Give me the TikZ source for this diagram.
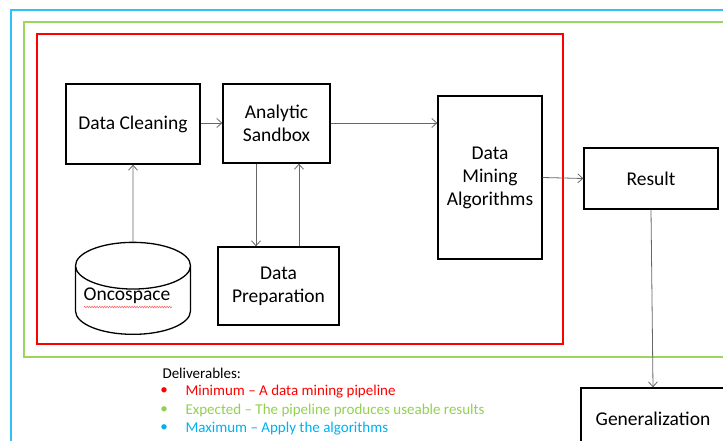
\documentclass[tikz,border=0pt]{standalone}
\usepackage{fontspec}
\setmainfont{Carlito}
\usetikzlibrary{arrows.meta, shapes.geometric, decorations.pathmorphing}

\definecolor{minred}{HTML}{FF0000}
\definecolor{expgreen}{HTML}{92D050}
\definecolor{maxblue}{HTML}{00B0F0}

\tikzset{
    box/.style={draw, line width=1.3pt, align=center, font=\fontsize{19.5}{23}\selectfont},
    link/.style={draw=black!60, line width=0.8pt, -{Straight Barb[length=5pt, width=9pt]}},
    frame/.style={line width=1.6pt},
    note/.style={font=\fontsize{15}{17}\selectfont},
}

\begin{document}
\begin{tikzpicture}[x=1pt, y=-1pt]
    \useasboundingbox (0,0) rectangle (723,441);
    \clip (0,0) rectangle (723,441);

    % nested deliverable frames
    \draw[frame, maxblue!80] (11,10) rectangle (760,480);
    \draw[frame, expgreen!90] (24,22) rectangle (760,357);
    \draw[frame, minred] (37,34) rectangle (563,344);

    % pipeline
    \node[box, minimum width=134, minimum height=80] (clean) at (133,124) {Data Cleaning};
    \node[box, minimum width=107, minimum height=79] (sandbox) at (276.5,123.5) {Analytic\\Sandbox};
    \node[box, minimum width=104, minimum height=163] (mining) at (490,177.5) {Data\\Mining\\Algorithms};
    \node[box, minimum width=121, minimum height=78] (prep) at (278.5,286) {Data\\Preparation};
    \node[box, minimum width=134, minimum height=61] (result) at (651,178.5) {Result};
    \node[box, minimum width=144, minimum height=62] (general) at (653,419) {Generalization};
    \node[box, cylinder, shape border rotate=90, aspect=0.5, anchor=south,
          minimum width=115, minimum height=92] (onco) at (133,335) {\phantom{Oncospace}};
    \node[font=\fontsize{19.5}{23}\selectfont] (oncolabel) at (127,296) {Oncospace};
    \draw[minred!60, line width=0.6pt, decorate,
          decoration={zigzag, amplitude=0.8pt, segment length=2.5pt}]
        (84,307) -- (172,307);

    % connectors
    \draw[link] (onco.north) -- (clean.south);
    \draw[link] (clean.east |- 0,123) -- (sandbox.west |- 0,123);
    \draw[link] (sandbox.east |- 0,123) -- (mining.west |- 0,123);
    \draw[link] (256,0 |- sandbox.south) -- (256,0 |- prep.north);
    \draw[link] (299,0 |- prep.north) -- (299,0 |- sandbox.south);
    \draw[link] (mining.east) -- (result.west);
    \draw[link] (result.south) -- (general.north);

    % deliverables
    \node[anchor=west, note] (deliv) at (159,373) {Deliverables:};
    \foreach \txt/\col [count=\i] in {Minimum -- A data mining pipeline/minred,
        Expected -- The pipeline produces useable results/expgreen,
        Maximum -- Apply the algorithms/maxblue} {
        \node[text=\col, note] (dot\i) at (164,373+18.5*\i) {\textbullet};
        \node[anchor=west, text=\col, note] (item\i) at (182,373+18.5*\i) {\txt};
    }
\end{tikzpicture}
\end{document}
